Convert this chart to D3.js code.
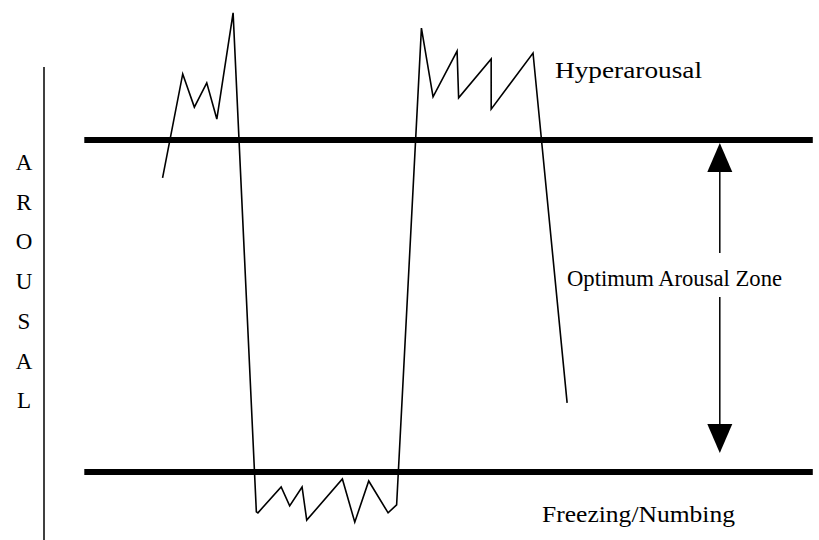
<!DOCTYPE html>
<html>
<head>
<meta charset="utf-8">
<script src="https://cdn.jsdelivr.net/npm/d3@7"></script>
<style>
  body { margin: 0; background: #fff; }
  text { font-family: "Liberation Serif", "DejaVu Serif", serif; fill: #000; }
</style>
</head>
<body>
<div id="vis"></div>
<script>
// frame size
const WIDTH = 819;
const HEIGHT = 540;

// arousal trace: time (arbitrary units) and arousal level (zone is 0..10)
const TIMES = [15.3, 17.9, 19.4, 21.0, 22.3, 24.4, 27.4, 27.6, 30.6, 31.7, 33.3, 33.9,
               38.5, 40.1, 41.9, 44.4, 45.5, 48.7, 50.2, 53.3, 53.5, 57.7, 57.7, 63.1, 67.5];
const AROUSAL = [8.86, 11.99, 10.99, 11.72, 10.63, 13.83, -1.20, -1.23, -0.45, -1.02, -0.45, -1.45,
                 -0.21, -1.51, -0.27, -1.23, -0.99, 13.37, 11.30, 12.68, 11.27, 12.44, 10.93, 12.62, 2.08];

// optimum zone bounds and where the bounding lines run
const ZONE = [0, 10];
const ZONE_SPAN = [5.2, 99.2];
const ARROW_T = 87.2;
const ARROW_ENDS = [9.91, 0.57];

// labels
const AXIS_LETTERS = ["A", "R", "O", "U", "S", "A", "L"];
const LABELS = ["Hyperarousal", "Optimum Arousal Zone", "Freezing/Numbing"];

const X_SCALE = d3.scaleLinear().domain([0, 100]).range([44, 819]);
const Y_SCALE = d3.scaleLinear().domain([0, 10]).range([472, 140]);

const svg = d3.select("#vis")
  .append("svg")
    .attr("width", WIDTH)
    .attr("height", HEIGHT);

// vertical axis line
svg.append("line")
  .attr("x1", X_SCALE(0)).attr("x2", X_SCALE(0))
  .attr("y1", Y_SCALE(12.2)).attr("y2", HEIGHT)
  .attr("stroke", "#000").attr("stroke-width", 1.5);

// axis title, one letter per row
svg.selectAll(".axis-letter")
  .data(AXIS_LETTERS)
  .enter().append("text")
    .attr("class", "axis-letter")
    .attr("x", 24)
    .attr("y", (d, i) => 170 + i * 39.7)
    .attr("text-anchor", "middle")
    .attr("font-size", "23px")
    .text(d => d);

// zone boundaries
svg.selectAll(".zone")
  .data(ZONE)
  .enter().append("line")
    .attr("class", "zone")
    .attr("x1", X_SCALE(ZONE_SPAN[0])).attr("x2", X_SCALE(ZONE_SPAN[1]))
    .attr("y1", d => Y_SCALE(d)).attr("y2", d => Y_SCALE(d))
    .attr("stroke", "#000").attr("stroke-width", 6);

// the arousal trace
const pts = TIMES.map((t, i) => [t, AROUSAL[i]]);
const line = d3.line().x(d => X_SCALE(d[0])).y(d => Y_SCALE(d[1]));
svg.append("path")
  .attr("d", line(pts))
  .attr("fill", "none")
  .attr("stroke", "#000")
  .attr("stroke-width", 1.6)
  .attr("stroke-linejoin", "miter");

// double arrow across the zone, broken by the label
const ax = X_SCALE(ARROW_T);
const arrowTop = Y_SCALE(ARROW_ENDS[0]), arrowBot = Y_SCALE(ARROW_ENDS[1]);
const headH = 29, headW = 12.5;
svg.append("line")
  .attr("x1", ax).attr("x2", ax)
  .attr("y1", arrowTop + headH).attr("y2", 253)
  .attr("stroke", "#000").attr("stroke-width", 1.5);
svg.append("line")
  .attr("x1", ax).attr("x2", ax)
  .attr("y1", 297).attr("y2", arrowBot - headH)
  .attr("stroke", "#000").attr("stroke-width", 1.5);
svg.append("path")
  .attr("d", `M${ax},${arrowTop} L${ax - headW},${arrowTop + headH} L${ax + headW},${arrowTop + headH} Z`)
  .attr("fill", "#000");
svg.append("path")
  .attr("d", `M${ax},${arrowBot} L${ax - headW},${arrowBot - headH} L${ax + headW},${arrowBot - headH} Z`)
  .attr("fill", "#000");

// text labels
const labelPos = [[555, 78, 147], [567, 286, 215], [542, 522, 193]];
svg.selectAll(".label")
  .data(LABELS)
  .enter().append("text")
    .attr("class", "label")
    .attr("x", (d, i) => labelPos[i][0])
    .attr("y", (d, i) => labelPos[i][1])
    .attr("textLength", (d, i) => labelPos[i][2])
    .attr("lengthAdjust", "spacingAndGlyphs")
    .attr("font-size", "23px")
    .text(d => d);
</script>
</body>
</html>
